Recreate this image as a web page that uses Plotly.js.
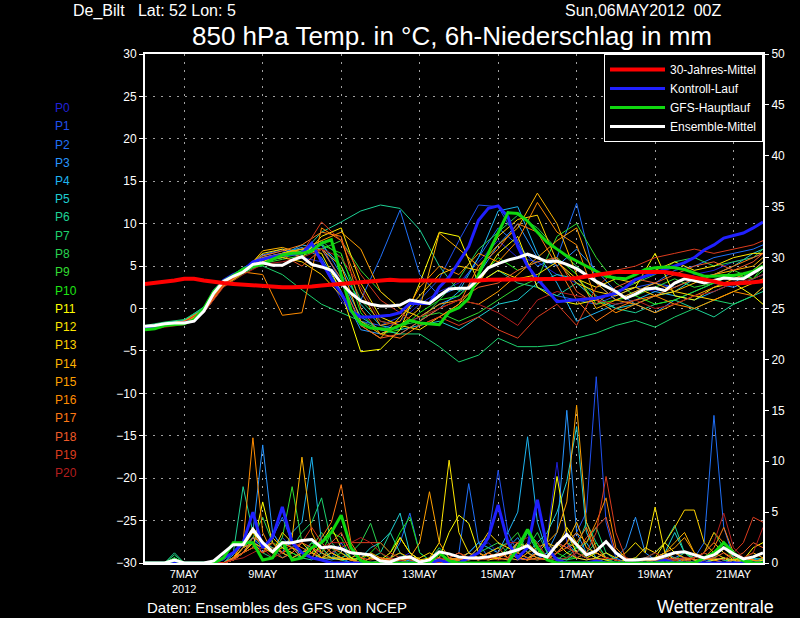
<!DOCTYPE html>
<html><head><meta charset="utf-8">
<script src="https://cdn.plot.ly/plotly-3.0.1.min.js"></script>
<style>html,body{margin:0;padding:0;background:#000;}#chart{width:800px;height:618px;}</style>
</head><body><div id="chart"></div>
<script>
// ---- time axes (hours since 06 May 2012 00Z) ----
const hours6 = [0,6,12,18,24,30,36,42,48,54,60,66,72,78,84,90,96,102,108,114,120,126,132,138,144,150,156,162,168,174,180,186,192,198,204,210,216,222,228,234,240,246,252,258,264,270,276,282,288,294,300,306,312,318,324,330,336,342,348,354,360,366,372,378];
const hours12 = [0,12,24,36,48,60,72,84,96,108,120,132,144,156,168,180,192,204,216,228,240,252,264,276,288,300,312,324,336,348,360,372,378];
const tickHours = [24,72,120,168,216,264,312,360];
const tickLabels = ['7MAY<br>2012','9MAY','11MAY','13MAY','15MAY','17MAY','19MAY','21MAY'];

const memberNames = ['P0','P1','P2','P3','P4','P5','P6','P7','P8','P9','P10','P11','P12','P13','P14','P15','P16','P17','P18','P19','P20'];
const memberColors = ['#2020d8','#2050f0','#2070f8','#2896ff','#1eb4f0','#1ecdd2','#1ed296','#1ed26e','#28d250','#32dc32','#1ee614','#ffff00','#ffe600','#ffd200','#ffb400','#ffa000','#ff8c00','#ff7814','#f05a28','#dc3c1e','#b41e1e'];

// ---- 850 hPa temperature: special series (6-hourly) ----
const climTemp = [2.9,3.0,3.2,3.3, 3.5,3.5,3.3,3.1, 3.0,2.9,2.8,2.7, 2.6,2.6,2.5,2.5, 2.5,2.6,2.7,2.8, 2.9,3.0,3.2,3.3, 3.4,3.4,3.3,3.3, 3.3,3.2,3.2,3.3, 3.3,3.3,3.3,3.4, 3.4,3.4,3.4,3.5, 3.5,3.5,3.5,3.5, 3.6,3.8,4.0,4.2, 4.3,4.3,4.3,4.4, 4.4,4.3,4.1,3.9, 3.7,3.5,3.2,2.9, 2.9,3.0,3.1,3.2];
const controlTemp = [-2.3,-2.1,-1.9,-1.8, -1.7,-1.4,-0.2,2.0, 3.3,4.0,4.5,5.5, 5.8,6.1,6.3,6.4, 6.5,7.7,5.5,3.5, 1.8,-0.3,-1.0,-1.0, -0.9,-0.8,-0.5,0.6, 0.6,0.6,2.5,3.7, 5.5,7.3,10.4,11.8, 12.1,10.8,7.3,5.0, 3.5,2.2,0.8,0.9, 1.0,1.1,1.2,1.5, 1.8,2.5,3.4,3.8, 4.2,4.6,5.0,5.4, 6.0,6.9,7.5,8.3, 8.6,8.9,9.5,10.2];
const gfsTemp = [-2.5,-2.4,-2.0,-1.9, -1.8,-1.3,0.0,2.0, 3.2,3.9,4.6,5.0, 5.2,5.8,6.3,6.5, 6.5,6.8,7.7,8.1, 3.8,-0.2,-1.8,-2.3, -2.4,-2.5,-2.0,-1.4, -1.7,-1.8,-1.9,-0.4, 0.1,1.2,4.0,6.5, 9.0,11.3,11.2,10.3, 9.0,7.8,7.0,6.2, 5.6,5.0,4.4,3.8, 3.6,3.5,4.0,4.6, 4.8,4.9,4.8,4.6, 4.2,3.8,3.8,3.9, 3.9,4.1,4.4,5.0];
const meanTemp = [-2.1,-2.0,-1.8,-1.7, -1.7,-1.5,-0.3,1.8, 3.2,3.8,4.3,5.2, 5.4,5.1,5.1,5.7, 6.1,5.2,4.9,4.5, 3.0,1.8,0.9,0.5, 0.3,0.3,0.4,1.0, 0.8,0.6,1.5,2.3, 2.4,2.4,3.5,4.8, 5.3,5.7,6.0,6.4, 6.0,5.5,5.6,5.2, 4.7,3.9,3.2,2.6, 2.0,1.2,1.7,2.3, 2.4,2.1,3.0,3.5, 3.3,3.0,3.3,3.6, 3.5,3.5,4.2,4.9];

// ---- 850 hPa temperature: ensemble members (12-hourly) ----
const tP0 = [-2.2,-1.8,-1.5,-0.2,2.9,4.6,6.2, 6.8,6.0,5.5,1.0,-2.0,-2.5,-1.5, 0.5,2.0,3.0,5.5,8.0,6.0,5.5, 4.0,3.0,1.0,2.0,2.5,2.0,3.0, 4.0,4.5,5.5,6.0,6.5];
const tP1 = [-2.3,-1.9,-1.6,-0.3,2.7,4.4,6.0, 6.5,7.0,7.5,3.0,-1.5,-2.0,-1.0, 1.0,3.5,8.0,12.2,12.0,8.0,2.5, 1.5,1.0,0.5,1.5,2.5,3.0,2.5, 3.5,4.0,3.5,4.5,5.0];
const tP2 = [-2.4,-1.9,-1.5,-0.1,3.0,4.7,6.3, 7.0,6.5,7.8,4.0,1.0,6.0,11.6, 4.0,1.5,2.5,6.0,9.5,7.5,5.0, 6.0,12.4,3.0,1.0,2.0,3.0,4.5, 5.0,6.0,6.5,7.0,7.5];
const tP3 = [-2.1,-1.7,-1.4,0.0,3.0,4.5,5.8, 6.5,7.2,6.0,2.0,-2.5,-3.0,-2.0, -1.0,0.5,1.5,4.0,7.5,10.0,6.0, 5.0,7.0,4.5,2.0,0.5,-0.5,1.0, 2.0,3.0,2.5,3.5,4.0];
const tP4 = [-2.3,-1.8,-1.5,-0.3,2.8,4.3,5.7, 6.3,7.5,7.0,3.5,-1.0,-2.5,-3.0, -1.5,0.0,2.0,6.0,11.5,12.0,6.5, 3.0,-1.5,-0.5,0.5,1.0,2.0,1.5, 1.0,2.0,3.0,4.5,5.5];
const tP5 = [-2.4,-2.0,-1.7,-0.5,2.6,4.2,5.5, 6.0,6.8,7.5,5.0,0.5,-2.0,-2.5, -2.0,-1.5,-2.5,-1.0,0.5,1.0,3.0, 4.0,3.5,1.5,0.0,0.5,1.5,2.0, 3.5,4.0,5.0,6.5,7.0];
const tP6 = [-2.2,-1.8,-1.4,0.2,3.2,4.8,6.0, 6.5,6.5,9.0,10.2,11.5,12.2,11.8, 9.3,5.0,2.0,3.0,4.5,3.0,2.5, 1.5,3.0,1.0,0.0,-0.5,0.5,1.0, 0.0,-1.0,0.5,1.5,2.0];
const tP7 = [-2.0,-1.6,-1.3,0.1,3.1,4.7,5.0, 4.0,2.2,0.5,-0.5,-1.5,-2.5,-3.0, -3.0,-4.5,-6.3,-5.5,-3.5,-4.5,-4.5, -4.3,-3.5,-2.9,-2.0,-1.4,-2.2,-1.0, 0.0,1.0,0.5,1.5,2.5];
const tP8 = [-2.3,-1.9,-1.6,-0.2,2.9,4.5,5.8, 6.2,6.8,8.0,6.0,1.0,-1.5,-2.0, -1.5,1.0,3.5,7.0,9.0,11.0,9.5, 7.0,5.0,3.0,2.0,3.0,4.0,5.5, 6.0,5.0,5.5,6.0,7.0];
const tP9 = [-2.5,-2.1,-1.8,-0.4,2.6,4.1,5.3, 5.8,6.2,7.0,8.0,4.5,2.0,0.0, -1.0,-0.5,-1.5,-0.5,1.0,2.5,3.5, 8.5,10.0,6.0,3.0,1.5,2.5,3.5, 2.5,3.0,4.5,3.5,4.5];
const tP10 = [-2.3,-1.9,-1.5,-0.1,3.0,4.6,5.8, 6.0,6.5,7.5,6.5,-0.5,-3.0,-2.5, -0.5,1.0,1.5,3.5,6.0,4.5,5.5, 6.0,4.0,0.5,1.0,1.5,0.5,1.0, 2.0,3.0,4.0,3.5,5.0];
const tP11 = [-2.4,-2.0,-1.7,-0.3,2.7,4.3,5.5, 6.5,7.0,6.5,2.0,-5.1,-4.8,-2.5, 3.0,9.0,8.5,3.0,6.5,8.5,2.5, 1.0,0.5,1.0,2.0,2.5,6.5,1.5, 1.0,2.5,3.0,1.5,0.5];
const tP12 = [-2.2,-1.8,-1.5,-0.2,2.8,4.5,6.5, 7.0,6.0,8.5,9.5,3.0,-1.0,-2.0, -2.5,-1.0,0.5,3.0,4.5,3.5,4.0, 5.5,3.5,2.5,3.5,3.0,4.5,5.5, 4.5,5.0,6.0,6.5,6.5];
const tP13 = [-2.3,-1.9,-1.6,-0.2,2.8,4.4,5.8, 6.0,5.5,4.0,1.5,-2.0,-3.5,-1.0, 1.5,4.0,5.0,4.5,8.5,10.5,11.0, 5.5,3.0,2.0,1.5,2.5,1.5,2.0, 1.5,1.0,2.0,3.0,3.5];
const tP14 = [-2.4,-2.0,-1.7,-0.3,2.6,4.2,6.8, 7.2,6.5,7.0,5.0,-1.5,-3.0,-2.0, 0.0,8.9,7.0,5.0,7.5,9.5,13.6, 10.0,4.0,0.0,1.0,2.0,3.0,2.0, 3.0,4.0,4.5,5.0,6.0];
const tP15 = [-2.3,-1.9,-1.5,-0.1,2.9,4.6,6.0, 6.5,7.0,8.0,9.0,7.0,2.0,0.0, -1.0,0.5,1.0,0.5,2.0,4.0,6.0, 8.0,9.5,3.0,1.0,0.5,-0.5,0.5, 1.5,2.5,3.5,4.5,5.5];
const tP16 = [-2.5,-2.1,-1.8,-0.4,2.7,4.3,4.0, -0.8,-0.5,9.5,8.0,2.0,-2.0,-1.5, 2.5,5.0,4.0,6.5,5.5,8.0,12.5, 9.0,7.5,1.0,-0.5,0.5,1.5,0.5, 0.0,1.0,2.0,1.5,2.5];
const tP17 = [-2.2,-1.8,-1.5,-0.3,2.8,4.5,6.2, 6.8,7.5,9.0,8.5,0.0,-3.0,-3.5, -2.0,-1.0,0.5,5.0,7.0,10.0,9.0, 5.0,1.0,-1.5,0.0,1.0,1.5,2.5, 3.5,4.0,5.0,6.0,6.5];
const tP18 = [-2.4,-2.0,-1.6,-0.2,2.7,4.3,5.9, 6.3,5.0,7.0,3.5,-2.0,-3.5,-3.0, -1.5,0.0,1.0,2.5,3.0,4.5,5.5, 6.0,2.0,0.5,2.5,3.5,3.0,4.0, 5.0,5.5,4.5,5.5,6.5];
const tP19 = [-2.3,-1.9,-1.6,-0.2,2.8,4.4,5.5, 5.0,6.5,10.2,8.0,4.0,1.0,-0.5, -2.0,-1.0,-2.0,-1.0,-2.5,-3.5,-1.0, 0.5,-2.0,2.5,4.5,5.0,6.0,6.5, 7.0,6.5,7.0,7.5,8.0];
const tP20 = [-2.6,-2.2,-1.9,-0.5,2.5,4.0,5.2, 5.5,6.0,7.0,6.0,2.5,-1.5,-2.0, -1.0,0.0,1.0,0.5,-0.5,-2.0,1.0, 2.0,1.5,1.0,0.5,1.0,0.0,0.5, 1.5,2.0,3.0,3.5,4.0];

// ---- 6h precipitation (mm), 6-hourly ----
const controlPrecip = [0,0,0,0, 0,0,0,0, 0.5,1.0,2.0,5.0, 1.5,2.5,5.5,2.0, 1.0,0.5,0.3,0, 0,0,0,0, 0,0,0,0, 0,0,0.3,0, 0,0.5,1.0,2.5, 5.7,2.0,0.5,1.5, 6.2,1.5,0.3,0, 0,0,0.2,0, 0,0,0,0, 0,0.3,0,0, 0,0,0,0, 0,0,0,0];
const gfsPrecip = [0,0,0,0.3, 0,0,0,0, 0.5,2.0,2.0,2.0, 0.3,0.5,2.1,0.3, 0.5,1.5,2.0,3.0, 4.7,1.5,0.2,0, 0,0,0,0, 0,0,1.0,0.2, 0,0,0,0, 0,0,1.5,3.3, 1.5,0.3,0,0, 0,0,0,0, 0,0,0,0, 0,0,0,0, 0,0.5,1.0,2.0, 1.0,0.2,0,0];
const meanPrecip = [0,0,0,0.3, 0,0,0,0.2, 1.0,1.8,1.8,3.3, 2.0,1.1,2.0,2.0, 2.2,2.3,1.5,1.6, 1.4,1.0,0.9,0.8, 0.2,0.1,0.5,0.6, 0.1,0.3,1.1,0.9, 0.6,0.5,0.5,0.6, 0.8,1.0,1.3,1.7, 0.9,0.6,1.8,2.8, 1.8,0.8,1.2,2.1, 1.0,0.3,0.3,0.4, 0.4,0.7,1.0,1.1, 0.8,0.5,0.8,1.5, 0.9,0.4,0.6,1.0];

const rP0 = [0,0,0,0, 0,0,0,0, 0,0.5,1.5,2.5, 1.0,3.0,1.5,2.0, 1.0,0.5,1.5,0.5, 0.5,0.3,0,0, 0,0,0.5,1.0, 0.3,0,0,0.5, 0.3,0.5,1.5,2.0, 1.0,0.5,0.3,0.5, 1.0,2.5,9.9,2.0, 0.5,0.3,0.5,1.0, 0.3,0,0,0, 0,0.5,1.0,0.3, 0,0.2,0.5,0, 0,0.3,0.5,0.2];
const rP1 = [0,0,0,0, 0,0,0,0, 0.3,1.0,2.0,3.5, 2.0,1.0,2.5,1.5, 0.5,1.5,1.0,0.5, 2.0,0.5,0.3,0, 0,0,0,0.3, 0,0.5,0.2,0, 0.5,1.0,2.0,2.5, 9.1,3.0,1.0,0.5, 0.3,1.0,2.0,1.5, 3.0,5.0,18.3,4.0, 0.5,0,0,0.3, 0,0,0.5,0, 0,0,0.3,0.5, 0.2,0,0,0.3];
const rP2 = [0,0,0,0, 0,0,0,0, 0,0.5,1.5,2.0, 1.5,2.5,4.5,2.0, 1.0,0.5,0.5,1.0, 1.5,0.3,0,0, 0,0.5,2.0,4.9, 1.0,0.3,0,0.5, 1.0,7.8,2.0,0.5, 0.5,1.0,0.5,0.3, 1.5,0.5,1.0,2.0, 1.0,0.5,0.3,0, 0.5,0,0,0, 0,0.3,0.5,1.0, 0.5,2.0,14.5,3.5, 0.5,0.3,0,0.5];
const rP3 = [0,0,0,0, 0,0,0,0, 0,0.8,2.0,3.0, 11.6,3.0,1.5,2.0, 0.5,1.0,0.5,0.3, 0.5,0,0,0.5, 0.3,0,0.5,0.2, 0,0,0.3,0, 0.5,0.3,1.0,0.5, 0.5,1.5,2.5,1.0, 0.5,1.0,3.0,15.0, 3.0,1.0,0.5,0.3, 0.5,1.5,4.5,1.0, 0.3,0,0,0.5, 0.3,0,0.5,0.3, 0,0,0.3,0.5];
const rP4 = [0,0,0,0.5, 0,0,0,0, 0,0.5,1.5,2.5, 1.5,2.0,1.0,3.0, 4.0,10.4,2.0,1.0, 0.5,1.0,0.3,0, 0,0.5,0.3,0, 0,0.3,0.5,0, 0.3,1.0,2.0,1.5, 1.0,3.0,5.0,12.4, 4.0,1.0,0.5,0.3, 1.0,2.0,0.5,0, 0,0.3,0,0.3, 0.5,1.0,0.5,0, 0,0.3,0.5,0.3, 0,0,0.3,0];
const rP5 = [0,0,0,0.5, 0,0,0,0, 0,0.3,1.0,2.5, 2.0,1.5,1.0,0.5, 1.0,2.0,1.5,0.5, 0.5,0.3,0.5,1.5, 2.0,3.0,4.9,1.0, 0.3,0,0,0.3, 0.5,0.3,1.0,0.5, 0.5,1.0,2.0,1.0, 2.0,3.0,5.0,8.0, 13.4,3.0,1.0,0.5, 0.3,0,0,0, 0.5,1.0,3.0,1.0, 0.3,0,0.3,0.5, 0.2,0,0,0.3];
const rP6 = [0,0,0,1.0, 0,0,0,0, 0,1.0,7.5,3.0, 2.0,1.5,0.5,1.0, 0.5,0.3,1.0,0.5, 0.3,0,0,0.5, 1.0,3.0,1.0,0.3, 0,0,0.5,0.3, 0,0.5,0.3,1.0, 0.5,0.3,2.0,3.0, 1.0,0.5,0.3,0.5, 1.5,4.0,2.0,0.5, 0.3,0,0.3,0.5, 1.0,2.0,3.7,1.0, 0.3,0,0.5,0.3, 0,0,0.5,0.3];
const rP7 = [0,0,0,0.8, 0,0,0,0, 0,0.5,1.0,2.0, 1.0,0.5,2.0,1.5, 3.0,4.0,6.4,2.0, 1.0,0.5,0.3,0, 0,0.5,1.0,0.3, 0,0.3,1.5,0.5, 0,0.3,0.5,1.0, 1.5,2.0,1.0,3.0, 2.0,0.5,0.3,1.0, 1.5,2.0,3.5,1.0, 0.3,0,0,0.3, 0,0.5,1.0,0.5, 0,0.5,1.0,2.0, 0.5,0.3,0,0];
const rP8 = [0,0,0,0.5, 0,0,0,0, 0,0.3,1.5,2.5, 4.5,2.0,1.0,0.5, 1.0,1.5,3.0,1.5, 0.5,1.0,2.0,3.9, 1.0,0.3,0,0.5, 0,0,0.3,0, 0.3,0.5,1.0,1.5, 2.0,1.0,0.5,1.5, 3.0,1.0,0.5,0.3, 0.5,1.0,2.0,0.5, 0,0,0.3,0, 0,0.3,0.5,0.3, 0.5,1.0,0.5,0.3, 0,0.3,0,0.5];
const rP9 = [0,0,0,0.5, 0,0,0,0, 0,0.3,1.0,2.0, 1.5,1.0,2.5,7.5, 2.0,1.0,1.5,0.5, 1.0,0.3,0,0, 0,0.3,0.5,0, 0,0,0,0.3, 0,0.5,0.3,0.5, 1.0,2.0,3.0,1.0, 0.5,0.3,1.0,2.0, 1.5,0.5,0.3,0, 0,0.3,0.5,0.3, 0,0,0.3,1.0, 0.5,1.0,3.0,1.5, 0.5,0,0,0.3];
const rP10 = [0,0,0,0.3, 0,0,0,0, 0,0.5,1.5,2.0, 1.0,2.0,1.5,1.0, 0.5,2.0,1.0,3.0, 2.5,0.5,0.3,1.0, 2.0,1.0,3.0,4.5, 1.0,0.3,0,0, 0,0.3,0.5,0.3, 0.5,1.5,1.0,0.5, 0.3,0.5,1.0,0.5, 0.5,1.0,0.5,0.3, 0,0,0,0.3, 0.5,0.3,0,0, 0,0.3,0.5,1.5, 0.5,0,0.3,0];
const rP11 = [0,0,0,0, 0,0,0,0, 0,0.5,1.0,1.5, 6.0,2.0,1.0,1.5, 1.0,0.5,2.0,3.5, 1.5,0.5,0,0, 0.3,1.0,2.5,1.0, 0.3,0,0.5,3.0, 4.7,3.9,1.0,0.5, 0.5,1.0,0.5,0.3, 1.0,2.0,8.5,3.0, 1.0,0.5,1.0,0.5, 0.3,0,0,0, 0.5,2.0,1.0,0.5, 0.3,0,0.3,0.5, 0,0.3,1.5,2.0];
const rP12 = [0,0,0,0, 0,0,0,0, 0,0.3,1.0,2.0, 1.0,2.5,1.5,1.0, 2.0,1.0,0.5,0.5, 0.3,0.5,1.0,0.5, 0.5,0.3,2.5,1.0, 0.3,0.5,2.0,10.1, 3.0,1.0,0.5,0.3, 0.5,1.0,2.0,1.5, 1.0,0.5,2.0,1.0, 0.5,0.3,0.5,1.0, 0.5,1.0,2.0,1.0, 5.5,1.0,0.3,0, 0.5,1.0,2.0,1.0, 0.3,0,0,0.3];
const rP13 = [0,0,0,0, 0,0,0,0, 0,0.5,1.5,3.0, 1.5,1.0,3.0,2.0, 1.0,1.5,0.5,1.0, 0.5,0.3,0,0, 0,0,0.3,0.5, 0.5,1.0,0.5,0, 0.3,0.5,1.5,3.0, 2.0,1.5,1.0,0.5, 1.0,2.0,1.5,3.5, 2.0,1.0,0.5,0.3, 0,0.3,0.5,1.5, 1.0,2.0,3.5,5.2, 5.2,2.0,1.0,0.5, 0.3,0.5,0.3,0];
const rP14 = [0,0,0,0, 0,0,0,0, 0,0.5,2.0,3.5, 2.0,1.0,1.5,2.5, 10.4,3.0,1.0,0.5, 0.5,0.3,0.5,1.0, 0.5,0.3,0,0, 0,0.5,1.0,0.3, 0.5,1.0,0.5,1.0, 1.5,0.5,0.3,1.0, 1.5,2.0,1.0,2.0, 4.0,1.5,1.0,0.5, 0.3,0,0,0.3, 0.5,1.0,2.0,3.0, 1.0,0.5,0.3,0, 0.3,0.5,1.0,0.5];
const rP15 = [0,0,0,0, 0,0,0,0, 0,0.3,1.0,2.0, 1.5,2.0,1.0,0.5, 1.0,1.5,2.0,1.0, 0.5,0.3,0,0.5, 0.3,0.5,1.0,0.5, 2.0,7.0,2.0,0.5, 0.3,0.5,1.0,0.5, 0.5,0.3,1.0,2.0, 1.0,2.0,3.0,6.0, 15.5,4.0,1.5,0.5, 0.3,0,0.3,0, 0.5,1.0,1.5,2.5, 1.0,0.5,0.3,0, 0,0.5,0.3,0];
const rP16 = [0,0,0,0, 0,0,0,0, 0,0.5,2.0,12.3, 3.0,1.0,2.0,1.5, 0.5,1.0,0.5,1.5, 1.0,0.3,0,0, 0,0.3,0,0.5, 0.3,0,0.3,0.5, 1.0,0.5,0.3,1.0, 0.5,1.0,0.5,0.3, 0.5,0.3,1.0,2.0, 3.0,2.0,4.0,6.4, 1.5,0.5,0.3,0, 0.3,0.5,0,0.3, 0.5,1.0,3.0,2.0, 1.0,0.3,0,0.5];
const rP17 = [0,0,0,0, 0,0,0,0, 0,0.3,1.5,2.0, 1.0,1.5,1.0,2.0, 1.5,1.0,2.5,4.0, 7.7,2.0,0.5,0, 0,0.3,0,0, 0.3,0,0,0.3, 0.5,0.3,1.0,0.5, 1.0,0.5,2.0,1.0, 0.5,0.3,1.0,1.5, 2.0,3.5,1.0,0.5, 0.3,0,0,0.3, 0,0.3,1.0,0.5, 0.3,0.5,1.5,3.5, 1.0,0.5,0.3,0];
const rP18 = [0,0,0,0, 0,0,0,0, 0,0.5,1.0,2.5, 2.0,1.0,0.5,1.0, 2.0,1.5,1.0,2.0, 3.0,1.0,0.5,0.3, 0.5,0.3,0.3,0, 0,0,0.3,0, 0.3,0.5,0.3,1.0, 0.5,1.0,0.5,0.3, 1.0,0.5,2.0,1.5, 1.0,2.5,3.5,4.5, 1.0,0.3,0,0, 0,0.3,0.5,0.3, 0,0.3,0.5,1.0, 0.5,1.0,2.0,1.5];
const rP19 = [0,0,0,0, 0,0,0,0, 0,0.3,1.0,1.5, 1.0,2.0,1.0,1.5, 2.0,3.5,2.0,1.0, 1.5,2.0,2.0,2.0, 2.0,1.0,0.5,0.3, 0,0.3,0,0.5, 1.0,0.5,0.3,0.5, 0.3,0.5,1.0,0.5, 0.3,0.5,1.0,2.0, 0.5,1.0,3.0,8.5, 3.0,0.5,0.3,0, 0.3,0,0.3,0.5, 0.5,1.0,0.5,0.3, 1.0,2.0,4.5,4.0];
const rP20 = [0,0,0,0, 0,0,0,0, 0,0.3,0.5,1.0, 1.5,0.5,1.0,2.0, 1.0,0.5,1.5,2.0, 2.0,2.0,2.5,2.0, 1.0,0.5,0.3,0, 0,0.3,0.5,0.3, 0,0.3,0.5,0.3, 1.0,2.0,2.0,2.5, 2.0,0.5,0.3,0.5, 1.0,0.5,0.3,0.5, 0.3,0,0.3,0.5, 1.0,0.5,0.3,0, 0.5,1.0,2.0,4.9, 1.5,0.5,1.0,3.5];

const memberTemps = [tP0,tP1,tP2,tP3,tP4,tP5,tP6,tP7,tP8,tP9,tP10,tP11,tP12,tP13,tP14,tP15,tP16,tP17,tP18,tP19,tP20];
const memberPrecips = [rP0,rP1,rP2,rP3,rP4,rP5,rP6,rP7,rP8,rP9,rP10,rP11,rP12,rP13,rP14,rP15,rP16,rP17,rP18,rP19,rP20];

// ---- build traces ----
const traces = [];
memberNames.forEach((nm, k) => {
  traces.push({x: hours6, y: memberPrecips[k], yaxis: 'y2', mode: 'lines', name: nm,
    line: {color: memberColors[k], width: 1}, showlegend: false, hoverinfo: 'skip'});
});
memberNames.forEach((nm, k) => {
  traces.push({x: hours12, y: memberTemps[k], yaxis: 'y', mode: 'lines', name: nm,
    line: {color: memberColors[k], width: 1}, showlegend: false, hoverinfo: 'skip'});
});
const CTRL = '#2020ff', GFS = '#10d810', MEAN = '#ffffff', CLIM = '#ff0000';
traces.push({x: hours6, y: controlPrecip, yaxis: 'y2', mode: 'lines', line: {color: CTRL, width: 3}, showlegend: false, hoverinfo: 'skip'});
traces.push({x: hours6, y: gfsPrecip, yaxis: 'y2', mode: 'lines', line: {color: GFS, width: 3}, showlegend: false, hoverinfo: 'skip'});
traces.push({x: hours6, y: meanPrecip, yaxis: 'y2', mode: 'lines', line: {color: MEAN, width: 3}, showlegend: false, hoverinfo: 'skip'});
traces.push({x: hours6, y: controlTemp, yaxis: 'y', mode: 'lines', name: 'Kontroll-Lauf', legendrank: 2, line: {color: CTRL, width: 3}});
traces.push({x: hours6, y: gfsTemp, yaxis: 'y', mode: 'lines', name: 'GFS-Hauptlauf', legendrank: 3, line: {color: GFS, width: 3}});
traces.push({x: hours6, y: meanTemp, yaxis: 'y', mode: 'lines', name: 'Ensemble-Mittel', legendrank: 4, line: {color: MEAN, width: 3}});
traces.push({x: hours6, y: climTemp, yaxis: 'y', mode: 'lines', name: '30-Jahres-Mittel', legendrank: 1, line: {color: CLIM, width: 4}});

// ---- annotations ----
const L = 145, R = 763, T = 54, B = 563;
const px = v => (v - L) / (R - L);
const py = v => (B - v) / (B - T);
const FONT = 'Liberation Sans, Arial, DejaVu Sans, sans-serif';
const annotations = [
  {text: 'De_Bilt\u00a0\u00a0\u00a0Lat: 52 Lon: 5', xref: 'paper', yref: 'paper', x: px(71), y: py(11), xanchor: 'left', yanchor: 'middle', showarrow: false, font: {size: 16, color: '#fff', family: FONT}},
  {text: 'Sun,06MAY2012\u00a0\u00a000Z', xref: 'paper', yref: 'paper', x: px(723), y: py(11), xanchor: 'right', yanchor: 'middle', showarrow: false, font: {size: 16, color: '#fff', family: FONT}},
  {text: 'Daten: Ensembles des GFS von NCEP', xref: 'paper', yref: 'paper', x: px(145), y: py(607), xanchor: 'left', yanchor: 'middle', showarrow: false, font: {size: 15, color: '#fff', family: FONT}},
  {text: 'Wetterzentrale', xref: 'paper', yref: 'paper', x: px(776), y: py(607), xanchor: 'right', yanchor: 'middle', showarrow: false, font: {size: 18, color: '#fff', family: FONT}}
];
memberNames.forEach((nm, k) => {
  annotations.push({text: nm, xref: 'paper', yref: 'paper', x: px(53), y: py(108 + 18.25 * k), xanchor: 'left', yanchor: 'middle', showarrow: false, font: {size: 12, color: memberColors[k], family: FONT}});
});

const layout = {
  width: 800, height: 618,
  paper_bgcolor: '#000', plot_bgcolor: '#000',
  margin: {l: 145, r: 37, t: 54, b: 55, pad: 0},
  font: {family: FONT, color: '#fff', size: 12},
  title: {text: '850 hPa Temp. in °C, 6h-Niederschlag in mm', xref: 'container', yref: 'container', x: 452 / 800, xanchor: 'center', y: 1 - 36 / 618, yanchor: 'middle', font: {size: 26, color: '#fff', family: FONT}},
  xaxis: {range: [0, 378], tickmode: 'array', tickvals: tickHours, ticktext: tickLabels, showgrid: true, gridcolor: '#a0a0a0', griddash: '2px,6px', gridwidth: 1,
    showline: true, linecolor: '#fff', linewidth: 2, mirror: true, ticks: '', zeroline: false, tickfont: {size: 11, color: '#fff'}, fixedrange: true},
  yaxis: {range: [-30, 30], tick0: 0, dtick: 5, showgrid: true, gridcolor: '#a0a0a0', griddash: '2px,6px', gridwidth: 1,
    showline: true, linecolor: '#fff', linewidth: 2, mirror: true, ticks: 'outside', ticklen: 4, tickcolor: '#fff', zeroline: false, tickfont: {size: 12, color: '#fff'}},
  yaxis2: {range: [0, 50], tick0: 0, dtick: 5, overlaying: 'y', side: 'right', showgrid: false, zeroline: false,
    showline: true, linecolor: '#fff', linewidth: 2, ticks: 'outside', ticklen: 4, tickcolor: '#fff', tickfont: {size: 12, color: '#fff'}},
  legend: {x: 1, xanchor: 'right', y: 1, yanchor: 'top', bgcolor: '#000', bordercolor: '#fff', borderwidth: 1,
    font: {size: 12, color: '#fff', family: FONT}, itemwidth: 55, tracegroupgap: 0},
  showlegend: true,
  annotations: annotations
};

Plotly.newPlot('chart', traces, layout, {staticPlot: true, displayModeBar: false});
</script>
</body></html>
